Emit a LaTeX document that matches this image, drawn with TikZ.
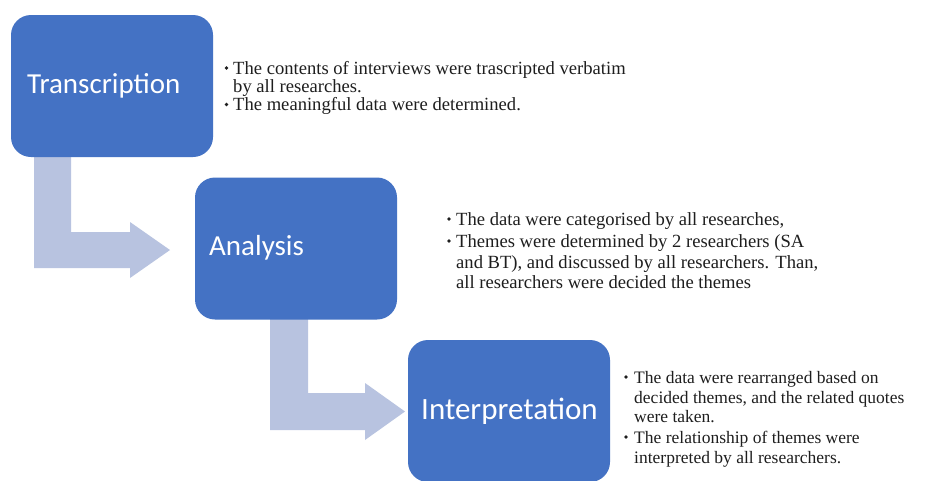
\documentclass[tikz,border=0pt]{standalone}
\usepackage{fontspec}
\setmainfont{Liberation Serif}
\newfontfamily\boxfont{Carlito}
\definecolor{boxblue}{HTML}{4472C4}
\definecolor{arrowlav}{HTML}{B8C3E0}
\definecolor{txt}{HTML}{1E1E1E}
\tikzset{
  stepbox/.style={draw=none, fill=boxblue, rounded corners=20pt, minimum width=202pt, minimum height=142pt, inner sep=0pt},
  boxlabel/.style={text=white, font=\boxfont\fontsize{29}{34}\selectfont, inner sep=0pt, anchor=west},
  bentarrow/.style={fill=arrowlav, draw=none},
  notesA/.style={anchor=base west, inner sep=0pt, text=txt, font=\fontsize{18.6}{20}\selectfont},
  notesB/.style={anchor=base west, inner sep=0pt, text=txt, font=\fontsize{18.6}{20}\selectfont},
  notesC/.style={anchor=base west, inner sep=0pt, text=txt, font=\fontsize{17.5}{20}\selectfont},
  dot/.style={circle, fill=txt, inner sep=0pt, minimum size=3.6pt},
}
\begin{document}
\begin{tikzpicture}[x=1pt,y=-1pt]
\useasboundingbox (0,0) rectangle (925,480);
\fill[white] (0,0) rectangle (925,480);
% bent arrows
\fill[bentarrow] (34,150) -- (71,150) -- (71,232) -- (130,232) -- (130,222) -- (170,250) -- (130,278) -- (130,268) -- (34,268) -- cycle;
\fill[bentarrow] (270,312) -- (308,312) -- (308,393) -- (365,393) -- (365,383) -- (405,411.5) -- (365,440) -- (365,430) -- (270,430) -- cycle;
% boxes
\node[stepbox] (b1) at (112,86) {};
\node[stepbox] (b2) at (296,248.5) {};
\node[stepbox] (b3) at (509,411) {};
\node[boxlabel] (l1) at (27,86) {Transcription};
\node[boxlabel] (l2) at (209,248) {Analysis};
\node[boxlabel, font=\boxfont\fontsize{31}{36}\selectfont] (l3) at (421,411) {Interpretation};
% notes: block 1
\node[dot] (d1a) at (226.5,68) {};
\node[notesA] (t1a) at (233,74.5) {The contents of interviews were trascripted verbatim};
\node[notesA] (t1b) at (233,92.5) {by all researches.};
\node[dot] (d1b) at (226.5,104.5) {};
\node[notesA] (t1c) at (233,110.5) {The meaningful data were determined.};
% notes: block 2
\node[dot] (d2a) at (449,219) {};
\node[notesB] (t2a) at (456,225) {The data were categorised by all researches,};
\node[dot] (d2b) at (449,241) {};
\node[notesB] (t2b) at (456,247) {Themes were determined by 2 researchers (SA};
\node[notesB] (t2c) at (456,268) {and BT), and discussed by all researchers. Than,};
\node[notesB] (t2d) at (456,288) {all researchers were decided the themes};
% notes: block 3
\node[dot] (d3a) at (626,377) {};
\node[notesC] (t3a) at (634,383) {The data were rearranged based on};
\node[notesC] (t3b) at (634,403) {decided themes, and the related quotes};
\node[notesC] (t3c) at (634,422) {were taken.};
\node[dot] (d3b) at (626,437) {};
\node[notesC] (t3d) at (634,443) {The relationship of themes were};
\node[notesC] (t3e) at (634,463) {interpreted by all researchers.};
\end{tikzpicture}
\end{document}
